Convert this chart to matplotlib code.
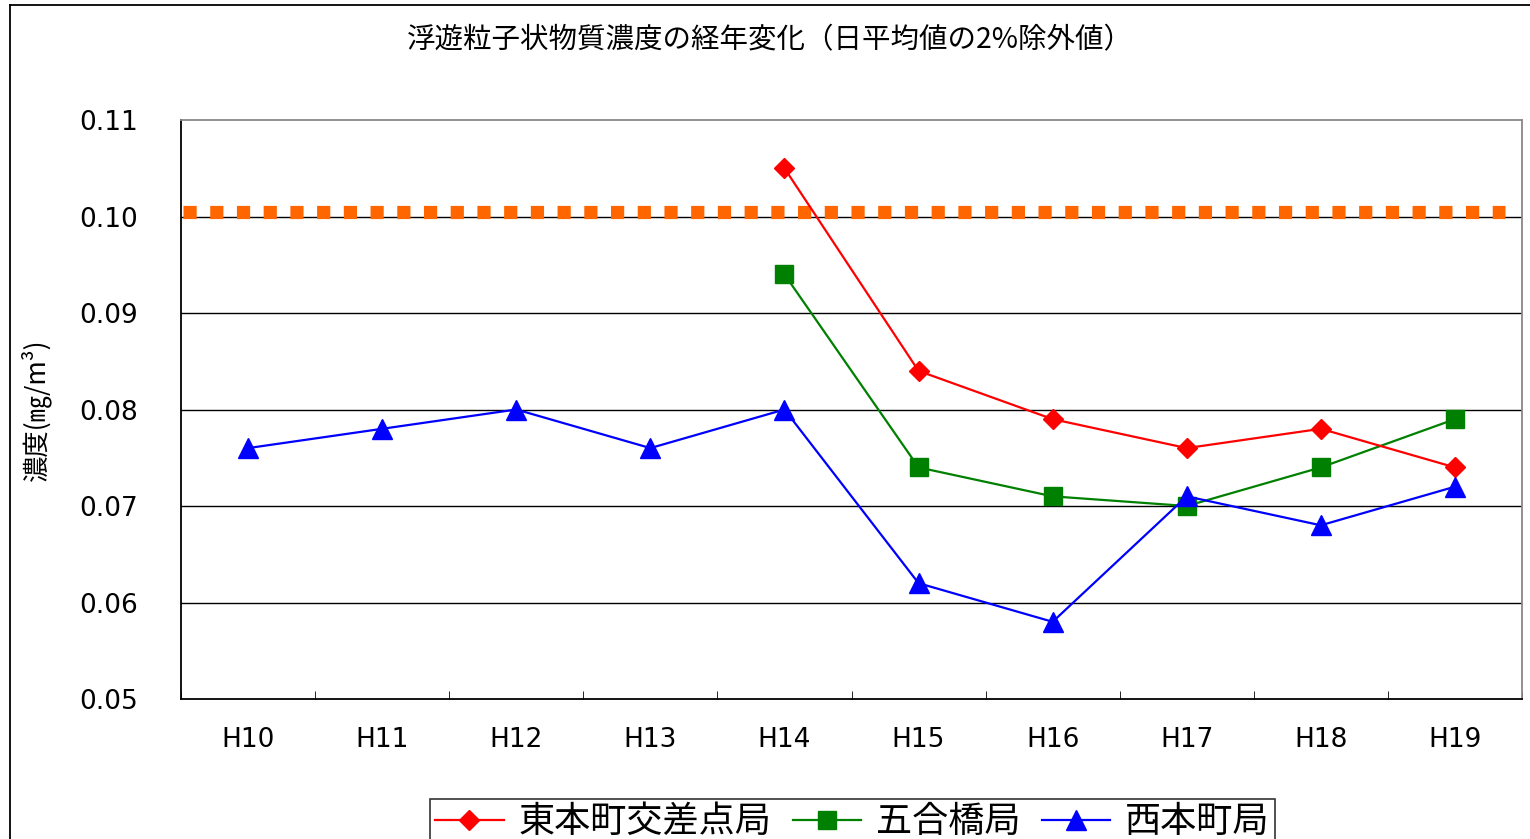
import matplotlib.pyplot as plt
import numpy as np

plt.rcParams['font.family'] = ['Noto Sans CJK JP', 'DejaVu Sans']

# data
years = ['H10', 'H11', 'H12', 'H13', 'H14', 'H15', 'H16', 'H17', 'H18', 'H19']
higashi = [None, None, None, None, 0.105, 0.084, 0.079, 0.076, 0.078, 0.074]
gogo = [None, None, None, None, 0.094, 0.074, 0.071, 0.070, 0.074, 0.079]
nishi = [0.076, 0.078, 0.080, 0.076, 0.080, 0.062, 0.058, 0.071, 0.068, 0.072]
standard = 0.1005
yticks = [0.05, 0.06, 0.07, 0.08, 0.09, 0.10, 0.11]

fig = plt.figure(figsize=(15.3, 8.39), dpi=100)
ax = fig.add_axes([181/1530, 1-699/839, (1522-181)/1530, (699-120)/839])

x = np.arange(len(years))
def arr(v):
    return np.array([np.nan if a is None else a for a in v], dtype=float)

# grid lines
for t in yticks[1:-1]:
    ax.axhline(t, color='black', lw=1.0, zorder=1)

# environmental standard (orange dotted)
ax.axhline(standard, xmin=0.0015, xmax=0.9873, color='#FF6600', lw=9.5,
           dashes=(1.0, 1.025), solid_capstyle='butt', dash_capstyle='butt', zorder=2)

ax.plot(x, arr(higashi), color='red', lw=1.6, marker='D', ms=10,
        label='東本町交差点局', zorder=4)
ax.plot(x, arr(gogo), color='green', lw=1.6, marker='s', ms=13,
        label='五合橋局', zorder=3)
ax.plot(x, arr(nishi), color='blue', lw=1.6, marker='^', ms=15,
        label='西本町局', zorder=5)

ax.set_xlim(-0.5, len(years)-0.5)
ax.set_ylim(0.05, 0.11)
ax.set_yticks(yticks)
ax.set_yticklabels(['%.2f' % t for t in yticks], fontsize=19, family='DejaVu Sans')
ax.set_xticks(x)
ax.set_xticklabels(years, fontsize=19, family='DejaVu Sans')
ax.set_xticks(np.arange(-0.5, len(years)), minor=True)
ax.tick_params(axis='x', which='major', length=0, pad=20)
ax.tick_params(axis='x', which='minor', direction='in', length=6, color='black')
ax.tick_params(axis='y', length=0, pad=31)

for s in ['left', 'bottom']:
    ax.spines[s].set_color('black')
    ax.spines[s].set_linewidth(1.3)
for s in ['top', 'right']:
    ax.spines[s].set_color('#888888')
    ax.spines[s].set_linewidth(1.3)

ax.set_ylabel('濃度(㎎/m³)', fontsize=19)
ax.yaxis.set_label_coords(-0.097, 0.5)

fig.text(0.503, 1-40/839, '浮遊粒子状物質濃度の経年変化（日平均値の2%除外値）',
         fontsize=20.5, ha='center', va='center')

# outer chart border
fig.add_artist(plt.Line2D([10/1530, 1], [1-5/839, 1-5/839], color='black', lw=1.3,
                          transform=fig.transFigure))
fig.add_artist(plt.Line2D([10/1530, 10/1530], [0, 1-5/839], color='black', lw=1.3,
                          transform=fig.transFigure))

leg = fig.legend(loc='upper center', bbox_to_anchor=(0.557, 1-799/839), ncol=3,
                 fontsize=26, frameon=True, fancybox=False, handlelength=1.9,
                 handletextpad=0.4, columnspacing=0.6, borderpad=0.15,
                 borderaxespad=0)
leg.get_frame().set_edgecolor('black')
leg.get_frame().set_linewidth(1.2)

fig.savefig('out.png', dpi=100)
